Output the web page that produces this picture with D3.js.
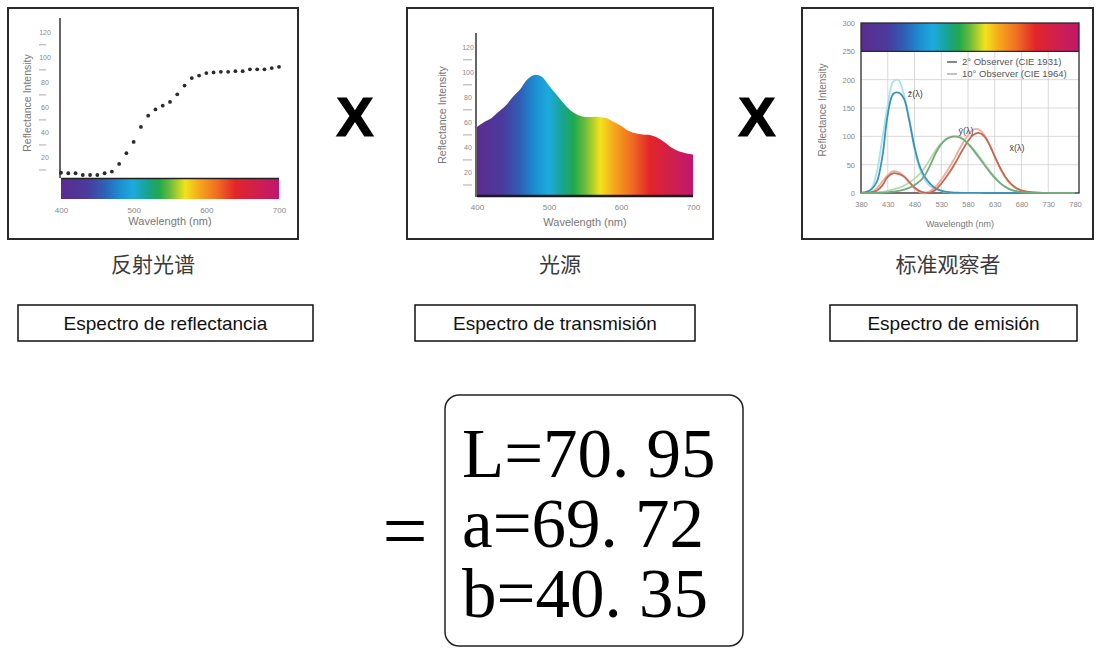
<!DOCTYPE html>
<html>
<head>
<meta charset="utf-8">
<script src="https://cdn.jsdelivr.net/npm/d3@7/dist/d3.min.js"></script>
<style>
  body { margin: 0; background: #fff; }
  svg { display: block; }
</style>
</head>
<body>
<svg id="chart" width="1101" height="649"></svg>
<script>
// --- data ---
const wl = [400,410,420,430,440,450,460,470,480,490,500,510,520,530,540,550,560,570,580,590,600,610,620,630,640,650,660,670,680,690,700];
// panel 1: reflectance dots
const reflectance = [7.4,7,7,5.6,5.6,5.6,7,8.3,14.4,23,32,44,53,58,61,64,70,77,83,85,87,87.5,88,88,88.5,88.5,90,90,90,91,92];
// panel 2: light source curve
const illuminant = [56,60,63,68,73,80,86,94,97.5,96,89,82,75,69,65.5,64,64,64,63,60,57,53,51,50,49.5,47.5,44,39.5,36.5,35,34];

// panel 3: standard observer (x100)
const wlCie = [380,390,400,410,420,430,440,450,460,470,480,490,500,510,520,530,540,550,560,570,580,590,600,610,620,630,640,650,660,670,680,690,700,710,720,730,740,750,760,770,780];
const xBar2 = [0.1,0.4,1.4,4.4,13.4,28.4,34.8,33.6,29.1,19.5,9.6,3.2,0.5,0.9,6.3,16.6,29.0,43.3,59.4,76.2,91.6,102.6,106.2,100.3,85.4,64.2,44.8,28.4,16.5,8.7,4.7,2.3,1.1,0.6,0.3,0.1,0.1,0,0,0,0];
const yBar2 = [0,0,0,0.1,0.4,1.2,2.3,3.8,6.0,9.1,13.9,20.8,32.3,50.3,71.0,86.2,95.4,99.5,99.5,95.2,87.0,75.7,63.1,50.3,38.1,26.5,17.5,10.7,6.1,3.2,1.7,0.8,0.4,0.2,0.1,0,0,0,0,0,0];
const zBar2 = [0.7,2.0,6.8,20.7,64.6,138.6,174.7,177.2,166.9,128.8,81.3,46.5,27.2,15.8,7.8,4.2,2.0,0.9,0.4,0.2,0.2,0.1,0.1,0,0,0,0,0,0,0,0,0,0,0,0,0,0,0,0,0,0];
const xBar10 = [0,0.2,1.9,8.5,20.5,31.5,38.4,37.1,30.2,19.6,8.1,1.6,0.4,3.8,11.8,23.7,37.7,53.0,70.5,87.9,101.4,111.9,112.4,103.1,85.6,64.8,43.2,26.8,15.3,8.1,4.1,2.0,1.0,0.5,0.2,0.1,0.1,0,0,0,0];
const yBar10 = [0,0,0.2,0.9,2.1,3.9,6.2,9.0,12.8,18.5,25.4,33.9,46.1,60.7,76.2,87.5,96.2,99.2,99.7,95.6,86.9,77.7,65.8,52.8,39.8,28.4,18.0,10.8,6.0,3.2,1.6,0.8,0.4,0.2,0.1,0,0,0,0,0,0];
const zBar10 = [0.1,1.1,8.6,38.9,97.3,155.4,196.7,199.5,174.5,131.8,77.2,41.5,21.9,11.2,6.1,3.1,1.4,0.4,0,0,0,0,0,0,0,0,0,0,0,0,0,0,0,0,0,0,0,0,0,0,0];

// tick labels
const wlTicks = [400,500,600,700];
const intensityTicks = [20,40,60,80,100,120];
const intensityMinor = [10,30,50,70,90,110];
const cieXTicks = [380,430,480,530,580,630,680,730,780];
const cieYTicks = [0,50,100,150,200,250,300];
const legendLabels = ["2° Observer (CIE 1931)", "10° Observer (CIE 1964)"];
const curveLabels = ["z̄(λ)", "ȳ(λ)", "x̄(λ)"];

// captions and result
const captionsZh = ["反射光谱", "光源", "标准观察者"];
const captionsEs = ["Espectro de reflectancia", "Espectro de transmisión", "Espectro de emisión"];
const labResult = ["L=70. 95", "a=69. 72", "b=40. 35"];

const svg = d3.select("#chart");
svg.append("rect").attr("width", 1101).attr("height", 649).attr("fill", "#fff");

// rainbow gradient shared by the three panels
const spectrumStops = [
  [0, "#5b2c8f"], [0.12, "#4b3a9d"], [0.2, "#2f5fb6"], [0.27, "#1b8fd2"], [0.33, "#1eaadd"],
  [0.4, "#16a48c"], [0.45, "#20a94c"], [0.5, "#6dbb3c"], [0.57, "#f2e21b"], [0.64, "#f7a21d"],
  [0.72, "#ef6a23"], [0.8, "#e2252a"], [0.9, "#d01f4d"], [1, "#c0176f"]
];
const defs = svg.append("defs");
const grad = defs.append("linearGradient").attr("id", "spectrum")
  .attr("x1", 0).attr("x2", 1).attr("y1", 0).attr("y2", 0);
grad.selectAll("stop").data(spectrumStops).enter().append("stop")
  .attr("offset", d => d[0]).attr("stop-color", d => d[1]);

const axisText = "#777";
const font = "Liberation Sans, Arial, sans-serif";

// frames
const frames = [[8, 8, 290, 231], [407, 8, 306, 231], [802, 8, 291, 231]];
svg.selectAll(".frame").data(frames).enter().append("rect")
  .attr("x", d => d[0]).attr("y", d => d[1]).attr("width", d => d[2]).attr("height", d => d[3])
  .attr("fill", "#fff").attr("stroke", "#2a2a2a").attr("stroke-width", 2);

function yTitle(x, y, size) {
  svg.append("text").attr("transform", `translate(${x},${y}) rotate(-90)`)
    .attr("text-anchor", "middle").attr("font-family", font).attr("font-size", size)
    .attr("fill", axisText).text("Reflectance Intensity");
}
function xTitle(x, y, size) {
  svg.append("text").attr("x", x).attr("y", y).attr("text-anchor", "middle")
    .attr("font-family", font).attr("font-size", size).attr("fill", axisText).text("Wavelength (nm)");
}
function styleAxis(g, size) {
  g.select(".domain").remove();
  g.selectAll("text").attr("font-family", font).attr("font-size", size).attr("fill", "#888");
  g.selectAll("line").attr("stroke", "#aaa");
}

// ---------- panel 1: reflectance ----------
const x1 = d3.scaleLinear().domain([400, 700]).range([61, 279]);
const y1 = d3.scaleLinear().domain([0, 131]).range([182, 18]);

svg.append("rect").attr("x", x1(400)).attr("y", 178).attr("width", x1(700) - x1(400)).attr("height", 21)
  .attr("fill", "url(#spectrum)");
svg.append("line").attr("x1", x1(400)).attr("x2", x1(700)).attr("y1", 178.5).attr("y2", 178.5)
  .attr("stroke", "#222").attr("stroke-width", 1.5);
svg.append("line").attr("x1", 60).attr("x2", 60).attr("y1", 18).attr("y2", 178)
  .attr("stroke", "#333").attr("stroke-width", 1.5);

svg.append("g").attr("transform", "translate(51,0)")
  .call(d3.axisLeft(y1).tickValues(intensityTicks).tickSize(0).tickPadding(0))
  .call(g => styleAxis(g, 7)).selectAll("text").attr("text-anchor", "middle").attr("dx", -6);
svg.append("g").attr("transform", "translate(46,0)")
  .call(d3.axisLeft(y1).tickValues(intensityMinor).tickSize(7).tickFormat(""))
  .call(g => styleAxis(g, 7));
svg.append("g").attr("transform", "translate(0,205)")
  .call(d3.axisBottom(x1).tickValues(wlTicks).tickSize(0).tickPadding(2))
  .call(g => styleAxis(g, 8));
yTitle(31, 103, 10.5);
xTitle(170, 225, 11);

svg.selectAll(".dot").data(wl).enter().append("circle")
  .attr("cx", d => x1(d)).attr("cy", (d, i) => y1(reflectance[i])).attr("r", 1.9)
  .attr("fill", "#2a2a2a");

// ---------- panel 2: light source ----------
const x2 = d3.scaleLinear().domain([400, 700]).range([477, 693]);
const y2 = d3.scaleLinear().domain([0, 131]).range([197, 33]);

const srcArea = d3.area()
  .x(d => x2(d))
  .y0(y2(0))
  .y1((d, i) => y2(illuminant[i]))
  .curve(d3.curveCatmullRom);
svg.append("path").datum(wl).attr("d", srcArea).attr("fill", "url(#spectrum)");
svg.append("line").attr("x1", x2(400)).attr("x2", x2(700)).attr("y1", 196).attr("y2", 196)
  .attr("stroke", "#1a1a1a").attr("stroke-width", 2.5);
svg.append("line").attr("x1", 476).attr("x2", 476).attr("y1", 33).attr("y2", 197)
  .attr("stroke", "#333").attr("stroke-width", 1.5);

svg.append("g").attr("transform", "translate(474,0)")
  .call(d3.axisLeft(y2).tickValues(intensityTicks).tickSize(0).tickPadding(0))
  .call(g => styleAxis(g, 7)).selectAll("text").attr("text-anchor", "middle").attr("dx", -6);
svg.append("g").attr("transform", "translate(472,0)")
  .call(d3.axisLeft(y2).tickValues(intensityMinor).tickSize(9).tickFormat(""))
  .call(g => styleAxis(g, 7));
svg.append("g").attr("transform", "translate(0,202)")
  .call(d3.axisBottom(x2).tickValues(wlTicks).tickSize(0).tickPadding(2))
  .call(g => styleAxis(g, 8));
yTitle(446, 115, 10.5);
xTitle(585, 226, 11);

// ---------- panel 3: standard observer ----------
const x3 = d3.scaleLinear().domain([380, 780]).range([861, 1075]);
const y3 = d3.scaleLinear().domain([0, 300]).range([193, 23]);
const plotL = 861, plotR = 1079;

// grid
svg.append("g").selectAll("line").data(cieXTicks.slice(1, -1)).enter().append("line")
  .attr("x1", d => x3(d)).attr("x2", d => x3(d)).attr("y1", y3(250)).attr("y2", y3(0))
  .attr("stroke", "#cfcfcf").attr("stroke-width", 0.8);
svg.append("g").selectAll("line").data([50, 100, 150, 200]).enter().append("line")
  .attr("x1", plotL).attr("x2", plotR).attr("y1", d => y3(d)).attr("y2", d => y3(d))
  .attr("stroke", "#cfcfcf").attr("stroke-width", 0.8);

svg.append("rect").attr("x", plotL).attr("y", y3(300)).attr("width", plotR - plotL).attr("height", y3(250) - y3(300))
  .attr("fill", "url(#spectrum)");
svg.append("rect").attr("x", plotL).attr("y", y3(300)).attr("width", plotR - plotL).attr("height", y3(0) - y3(300))
  .attr("fill", "none").attr("stroke", "#2a2a2a").attr("stroke-width", 1.3);
svg.append("line").attr("x1", plotL).attr("x2", plotR).attr("y1", y3(250)).attr("y2", y3(250))
  .attr("stroke", "#2a2a2a").attr("stroke-width", 1.3);

const cieLine = vals => d3.line().x(d => x3(d)).y((d, i) => y3(vals[i])).curve(d3.curveCatmullRom)(wlCie);
const cieSeries = [
  [zBar10, "#a9e2f2"], [xBar10, "#f3ad98"], [yBar10, "#b4dcab"],
  [zBar2, "#3b93b5"], [xBar2, "#bf6a55"], [yBar2, "#74ab7c"]
];
svg.append("g").selectAll("path").data(cieSeries).enter().append("path")
  .attr("d", d => cieLine(d[0])).attr("fill", "none").attr("stroke", d => d[1])
  .attr("stroke-width", 1.8);

svg.append("g").attr("transform", `translate(${plotL - 4},0)`)
  .call(d3.axisLeft(y3).tickValues(cieYTicks).tickSize(0).tickPadding(2))
  .call(g => styleAxis(g, 7.5));
svg.append("g").attr("transform", `translate(0,${y3(0) + 7})`)
  .call(d3.axisBottom(x3).tickValues(cieXTicks).tickSize(0).tickPadding(2))
  .call(g => styleAxis(g, 7.5));
yTitle(826, 110, 10);
xTitle(960, 227, 9);

// legend
const legend = svg.append("g").selectAll("g").data(legendLabels).enter().append("g")
  .attr("transform", (d, i) => `translate(947,${65 + i * 12})`);
legend.append("line").attr("x1", 0).attr("x2", 10).attr("y1", -3).attr("y2", -3)
  .attr("stroke", (d, i) => i ? "#999" : "#333").attr("stroke-width", 1.2);
legend.append("text").attr("x", 15).attr("font-family", font).attr("font-size", 9.5)
  .attr("fill", "#555").text(d => d);

// curve names
const curveLabelPos = [[445, 170], [540, 105], [635, 75]];
svg.append("g").selectAll("text").data(curveLabels).enter().append("text")
  .attr("x", (d, i) => x3(curveLabelPos[i][0]) + 12).attr("y", (d, i) => y3(curveLabelPos[i][1]))
  .attr("font-family", font).attr("font-size", 9).attr("fill", "#444").text(d => d);

// ---------- multiplication signs ----------
svg.append("g").selectAll("text").data([355, 757]).enter().append("text")
  .attr("x", d => d).attr("y", 136).attr("text-anchor", "middle")
  .attr("font-family", font).attr("font-weight", "bold").attr("font-size", 56).attr("fill", "#000")
  .attr("stroke", "#000").attr("stroke-width", 1.2)
  .text("X");

// ---------- captions ----------
const centers = [153, 560, 948];
svg.append("g").selectAll("text").data(captionsZh).enter().append("text")
  .attr("x", (d, i) => centers[i]).attr("y", 272).attr("text-anchor", "middle")
  .attr("font-family", "Noto Sans CJK SC, sans-serif").attr("font-size", 21).attr("fill", "#3a3a3a")
  .text(d => d);

const boxes = [[18, 295], [415, 280], [830, 247]];
const capBox = svg.append("g").selectAll("g").data(captionsEs).enter().append("g");
capBox.append("rect").attr("x", (d, i) => boxes[i][0]).attr("y", 305)
  .attr("width", (d, i) => boxes[i][1]).attr("height", 36)
  .attr("fill", "#fff").attr("stroke", "#111").attr("stroke-width", 1.5);
capBox.append("text").attr("x", (d, i) => boxes[i][0] + boxes[i][1] / 2).attr("y", 330)
  .attr("text-anchor", "middle").attr("font-family", font).attr("font-size", 19).attr("fill", "#111")
  .text(d => d);

// ---------- result ----------
svg.append("text").attr("x", 405).attr("y", 558).attr("text-anchor", "middle")
  .attr("font-family", "Liberation Serif, serif").attr("font-size", 80).attr("fill", "#000").text("=");
svg.append("rect").attr("x", 445).attr("y", 395).attr("width", 298).attr("height", 251).attr("rx", 14)
  .attr("fill", "none").attr("stroke", "#222").attr("stroke-width", 1.5);
svg.append("g").selectAll("text").data(labResult).enter().append("text")
  .attr("x", 462).attr("y", (d, i) => 477 + i * 70)
  .attr("font-family", "Liberation Serif, serif").attr("font-size", 69).attr("fill", "#000")
  .text(d => d);
</script>
</body>
</html>
